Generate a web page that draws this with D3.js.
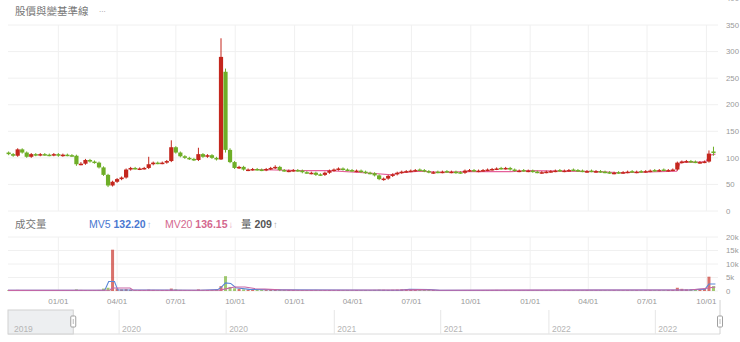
<!DOCTYPE html>
<html>
<head>
<meta charset="utf-8">
<script src="https://cdn.jsdelivr.net/npm/d3@7"></script>
<style>
  body { margin: 0; background: #fff; }
  svg { display: block; font-family: "Liberation Sans", Arial, "Noto Sans CJK TC", sans-serif; }
</style>
</head>
<body>
<svg width="740" height="342"></svg>
<script>
// weekly candles, one per week starting Monday 2019-10-14
const opens = [
  110,107,104,116,110,102,107,105,107,106,
  105,107,104,106,105,104,88,89,96,93,
  91,82,68,48,55,60,63,78,81,79,
  80,81,88,91,90,91,94,120,110,103,
  100,98,96,107,102,105,100,97,262,115,
  92,81,83,77,78,79,78,77,79,81,
  83,77,75,76,77,76,73,71,72,69,
  68,72,76,78,80,78,77,75,76,74,
  72,71,67,59,61,66,69,72,74,75,
  76,78,77,75,72,74,73,75,73,74,
  73,72,76,77,75,76,77,78,79,81,
  80,81,78,75,77,75,76,74,72,73,
  74,75,77,75,76,78,77,76,74,76,
  74,75,74,73,71,73,72,73,75,73,
  75,74,75,77,76,78,76,77,78,91,
  93,94,93,91,92,93,112
];
const closes = [
  107,104,116,110,102,107,105,107,106,105,
  107,104,106,105,104,88,89,96,93,91,
  82,68,48,55,60,63,78,81,80,80,
  81,88,91,90,91,94,120,110,103,100,
  98,96,107,102,105,100,97,290,115,92,
  81,83,78,78,79,78,77,79,81,83,
  77,76,76,77,76,73,72,72,68,68,
  72,76,78,80,78,77,76,76,74,72,
  71,67,60,61,66,69,72,74,75,76,
  77,77,75,73,73,73,74,74,74,72,
  72,76,77,76,76,77,78,79,80,80,
  81,78,76,76,76,76,74,73,73,74,
  75,76,76,76,77,77,76,75,75,75,
  75,74,73,72,72,72,73,74,74,74,
  74,75,76,76,77,77,77,78,91,93,
  94,93,92,92,93,108,110
];
const highs = [
  112,109,118,118,112,109,109,109,109,108,
  109,109,108,108,107,106,92,98,98,95,
  93,84,70,57,62,65,80,83,83,82,
  83,102,93,93,93,96,133,122,112,105,
  102,100,119,109,107,107,102,325,268,118,
  94,85,85,80,81,81,80,81,83,86,
  85,79,78,79,79,78,75,74,74,71,
  74,78,80,82,82,80,79,78,78,76,
  74,73,69,63,68,71,74,76,77,78,
  79,80,79,77,75,76,76,77,76,76,
  75,78,79,79,78,79,80,81,82,83,
  83,83,80,78,79,78,78,76,75,76,
  77,78,79,78,79,80,79,78,77,78,
  77,77,76,75,74,75,75,76,77,76,
  77,77,78,79,79,80,79,80,93,95,
  96,96,95,94,95,114,121
];
const lows = [
  105,102,102,108,100,100,103,103,104,103,
  103,102,102,103,102,85,86,87,91,89,
  80,66,45,46,53,58,61,76,78,77,
  78,79,86,88,88,89,92,108,101,98,
  96,94,94,100,100,98,95,96,110,90,
  79,79,76,75,76,76,75,75,77,79,
  75,74,73,74,74,71,70,69,66,66,
  66,70,74,76,76,75,74,73,72,70,
  69,65,58,57,59,64,67,70,72,73,
  74,75,73,71,70,71,71,72,71,70,
  70,70,74,74,73,74,75,76,77,78,
  78,76,74,73,74,73,72,71,70,71,
  72,73,74,73,74,75,74,73,72,73,
  72,72,71,70,69,70,70,71,72,71,
  72,72,73,74,74,75,74,75,76,89,
  91,91,90,89,90,91,104
];
const volumes = [
  300,250,400,300,200,250,200,250,200,200,
  200,250,200,200,250,600,400,350,300,300,
  400,900,1200,15300,900,600,700,500,400,350,
  300,500,400,300,350,400,900,600,400,350,
  300,300,600,400,350,400,500,1800,5500,1500,
  1000,800,600,500,450,400,400,350,400,600,
  500,400,350,350,300,350,350,300,400,350,
  300,350,300,350,300,300,250,300,300,350,
  300,400,500,450,400,450,500,600,700,650,
  600,550,500,400,350,300,300,300,250,300,
  250,300,300,250,250,300,300,350,400,350,
  350,300,250,250,250,250,200,250,250,250,
  250,250,200,250,250,250,200,200,250,250,
  200,250,250,200,250,250,200,250,250,250,
  250,250,300,300,300,300,350,400,1200,800,
  600,500,450,500,900,5300,1800
];

// pink base line (股價基準線)
const baseDates = ["2020-11-04","2021-01-09","2021-02-24","2021-05-01","2021-05-31","2021-06-13",
  "2021-07-14","2021-08-14","2021-09-30","2021-12-01","2022-01-01","2022-02-16","2022-04-19",
  "2022-05-20","2022-06-20","2022-08-16","2022-08-22","2022-09-21","2022-09-30","2022-10-06","2022-10-15"];
const baseValues = [78,76,76,71,68,72,75,73,74,74,76,75,74,72,73,75,92,92,93,105,107];

// volume moving averages
const mv5Dates = ["2019-10-15","2020-03-13","2020-03-19","2020-03-28","2020-04-02","2020-08-07",
  "2020-09-04","2020-09-10","2020-09-16","2020-09-24","2020-10-02","2020-10-23","2020-12-09",
  "2021-06-13","2021-06-28","2021-07-29","2021-08-14","2022-09-05","2022-09-29","2022-10-05","2022-10-15"];
const mv5Values = [250,280,3500,3500,400,300,500,1500,3000,2800,1200,600,400,300,600,500,250,400,700,2600,2600];
const mv20Dates = ["2019-10-15","2020-03-21","2020-03-24","2020-04-21","2020-04-26","2020-09-07",
  "2020-09-16","2020-09-30","2020-10-16","2020-10-31","2020-12-09","2021-01-09","2021-06-13",
  "2021-07-14","2021-08-14","2022-09-05","2022-09-29","2022-10-15"];
const mv20Values = [250,300,1100,1100,300,300,800,1500,1500,900,400,300,350,500,300,350,900,1500];

const priceTicks = [0,50,100,150,200,250,300,350,400];
const volTicks = [0,5000,10000,15000,20000];
const volTickLabels = ["0","5k","10k","15k","20k"];

const svg = d3.select("svg"),
    width = +svg.attr("width"),
    height = +svg.attr("height");

const parse = d3.timeParse("%Y-%m-%d");
const upColor = "#c4261d", downColor = "#6eae27";
const gridColor = "#f0f0f0", labelColor = "#999";
const candleW = 4.2;

const x = d3.scaleTime()
  .domain([parse("2019-10-15"), parse("2022-10-19")])
  .range([8, 718]);
const yPrice = d3.scaleLinear().domain([0, 350]).range([211, 25]);
const yVol = d3.scaleLinear().domain([0, 20000]).range([291, 237]);
const navX = d3.scaleTime()
  .domain([parse("2019-06-26"), parse("2022-10-19")])
  .range([8, 720]);

const candles = d3.timeMonday.range(parse("2019-10-14"), parse("2022-10-11"))
  .map((d, i) => ({
    date: d3.timeDay.offset(d, 2),
    o: opens[i], c: closes[i], h: highs[i], l: lows[i], v: volumes[i]
  }));
const color = d => d.c >= d.o ? upColor : downColor;

// -----------------------------------------------------------------------------
// grid + axes

const grid = svg.append("g").attr("class", "grid");
const quarterTicks = x.ticks(d3.timeMonth.every(3));

grid.selectAll("line.ph")
  .data(priceTicks)
  .enter().append("line")
  .attr("x1", 8).attr("x2", 718)
  .attr("y1", d => yPrice(d)).attr("y2", d => yPrice(d))
  .attr("stroke", gridColor);

grid.selectAll("line.vh")
  .data(volTicks)
  .enter().append("line")
  .attr("x1", 8).attr("x2", 718)
  .attr("y1", d => yVol(d)).attr("y2", d => yVol(d))
  .attr("stroke", gridColor);

quarterTicks.forEach(t => {
  grid.append("line")
    .attr("x1", x(t)).attr("x2", x(t))
    .attr("y1", yPrice(350)).attr("y2", yPrice(0))
    .attr("stroke", gridColor);
  grid.append("line")
    .attr("x1", x(t)).attr("x2", x(t))
    .attr("y1", yVol(20000)).attr("y2", yVol(0))
    .attr("stroke", gridColor);
});

svg.append("g")
  .selectAll("text")
  .data(priceTicks)
  .enter().append("text")
  .attr("x", 726)
  .attr("y", d => yPrice(d))
  .attr("dy", "0.35em")
  .attr("font-size", 7.8)
  .attr("fill", labelColor)
  .text(d => d);

svg.append("g")
  .selectAll("text")
  .data(volTicks)
  .enter().append("text")
  .attr("x", 726)
  .attr("y", d => yVol(d))
  .attr("dy", "0.35em")
  .attr("font-size", 7.8)
  .attr("fill", labelColor)
  .text((d, i) => volTickLabels[i]);

svg.append("g")
  .selectAll("text")
  .data(quarterTicks)
  .enter().append("text")
  .attr("x", d => x(d))
  .attr("y", 304)
  .attr("text-anchor", "middle")
  .attr("font-size", 8)
  .attr("fill", labelColor)
  .text(d3.timeFormat("%m/%d"));

// -----------------------------------------------------------------------------
// price panel

const baseLine = baseDates.map((d, i) => ({date: parse(d), v: baseValues[i]}));
svg.append("path")
  .datum(baseLine)
  .attr("fill", "none")
  .attr("stroke", "#e5609a")
  .attr("stroke-width", 1.1)
  .attr("d", d3.line().x(d => x(d.date)).y(d => yPrice(d.v)));

const cg = svg.append("g").attr("class", "candles");
cg.selectAll("line")
  .data(candles)
  .enter().append("line")
  .attr("x1", d => x(d.date)).attr("x2", d => x(d.date))
  .attr("y1", d => yPrice(d.h)).attr("y2", d => yPrice(d.l))
  .attr("stroke", color)
  .attr("stroke-width", 1);

cg.selectAll("rect")
  .data(candles)
  .enter().append("rect")
  .attr("x", d => x(d.date) - candleW / 2)
  .attr("width", candleW)
  .attr("y", d => yPrice(Math.max(d.o, d.c)))
  .attr("height", d => Math.max(1.5, Math.abs(yPrice(d.o) - yPrice(d.c))))
  .attr("fill", color);

svg.append("text")
  .attr("x", 15).attr("y", 15)
  .attr("font-size", 10.5)
  .attr("fill", "#777")
  .attr("font-family", "'Noto Sans CJK TC', sans-serif")
  .text("股價與變基準線");
svg.append("text")
  .attr("x", 99).attr("y", 12)
  .attr("font-size", 8)
  .attr("fill", "#999")
  .text("...");

// -----------------------------------------------------------------------------
// volume panel

svg.append("g")
  .selectAll("rect")
  .data(candles)
  .enter().append("rect")
  .attr("x", d => x(d.date) - 1.5)
  .attr("width", 3)
  .attr("y", d => yVol(d.v))
  .attr("height", d => yVol(0) - yVol(d.v))
  .attr("fill", color)
  .attr("opacity", 0.65);

const volLine = d3.line().x(d => x(d.date)).y(d => yVol(d.v));
const mv20 = mv20Dates.map((d, i) => ({date: parse(d), v: mv20Values[i]}));
const mv5 = mv5Dates.map((d, i) => ({date: parse(d), v: mv5Values[i]}));

svg.append("path").datum(mv5)
  .attr("fill", "none").attr("stroke", "#5a86d6").attr("stroke-width", 1.1)
  .attr("d", volLine);
svg.append("path").datum(mv20)
  .attr("fill", "none").attr("stroke", "#c765a5").attr("stroke-width", 1.1)
  .attr("d", volLine);

// legend row
const legend = svg.append("g").attr("font-size", 10.5);
legend.append("text")
  .attr("x", 15).attr("y", 228)
  .attr("fill", "#777")
  .attr("font-family", "'Noto Sans CJK TC', sans-serif")
  .text("成交量");

function legendItem(xPos, label, value, arrow, col, arrowCol) {
  const t = legend.append("text").attr("x", xPos).attr("y", 228).attr("fill", col);
  t.append("tspan").text(label + " ");
  t.append("tspan").attr("font-weight", "bold").text(value);
  t.append("tspan").attr("fill", arrowCol).attr("font-size", 9.5).attr("dx", 1).text(arrow);
}
legendItem(89, "MV5", "132.20", "↑", "#4a78d0", "#a8bde6");
legendItem(165, "MV20", "136.15", "↓", "#d4688e", "#e8adc2");
legendItem(241, "量", "209", "↑", "#555", "#aaa");

// -----------------------------------------------------------------------------
// navigator

const nav = svg.append("g").attr("class", "nav");
const navTop = 310, navBottom = 334;
const navTicks = navX.ticks(d3.timeMonth.every(6));
const winLeft = navX(x.domain()[0]);

nav.append("line")
  .attr("x1", 8).attr("x2", 720)
  .attr("y1", navBottom).attr("y2", navBottom)
  .attr("stroke", "#dcdcdc");

nav.selectAll("line.sep")
  .data(navTicks.filter(d => navX(d) > 20))
  .enter().append("line")
  .attr("x1", d => navX(d)).attr("x2", d => navX(d))
  .attr("y1", navTop).attr("y2", navBottom)
  .attr("stroke", "#e6e6e6");

nav.append("rect")
  .attr("x", 8).attr("y", navTop)
  .attr("width", winLeft - 8).attr("height", navBottom - navTop)
  .attr("fill", "#e9ebee").attr("fill-opacity", 0.8)
  .attr("stroke", "#d2d2d2");

nav.selectAll("text")
  .data(navTicks)
  .enter().append("text")
  .attr("x", d => Math.max(10, navX(d) + 3))
  .attr("y", 332)
  .attr("font-size", 8.5)
  .attr("fill", "#b5b5b5")
  .text(d3.timeFormat("%Y"));

nav.append("line")
  .attr("x1", 720).attr("x2", 720)
  .attr("y1", 300).attr("y2", navBottom)
  .attr("stroke", "#d2d2d2");

[winLeft, 720].forEach(hx => {
  nav.append("rect")
    .attr("x", hx - 2.5).attr("y", 316)
    .attr("width", 5).attr("height", 11)
    .attr("rx", 1)
    .attr("fill", "#fff")
    .attr("stroke", "#a0a0a0");
  nav.append("line")
    .attr("x1", hx).attr("x2", hx)
    .attr("y1", 319).attr("y2", 324)
    .attr("stroke", "#bbb");
});
</script>
</body>
</html>
